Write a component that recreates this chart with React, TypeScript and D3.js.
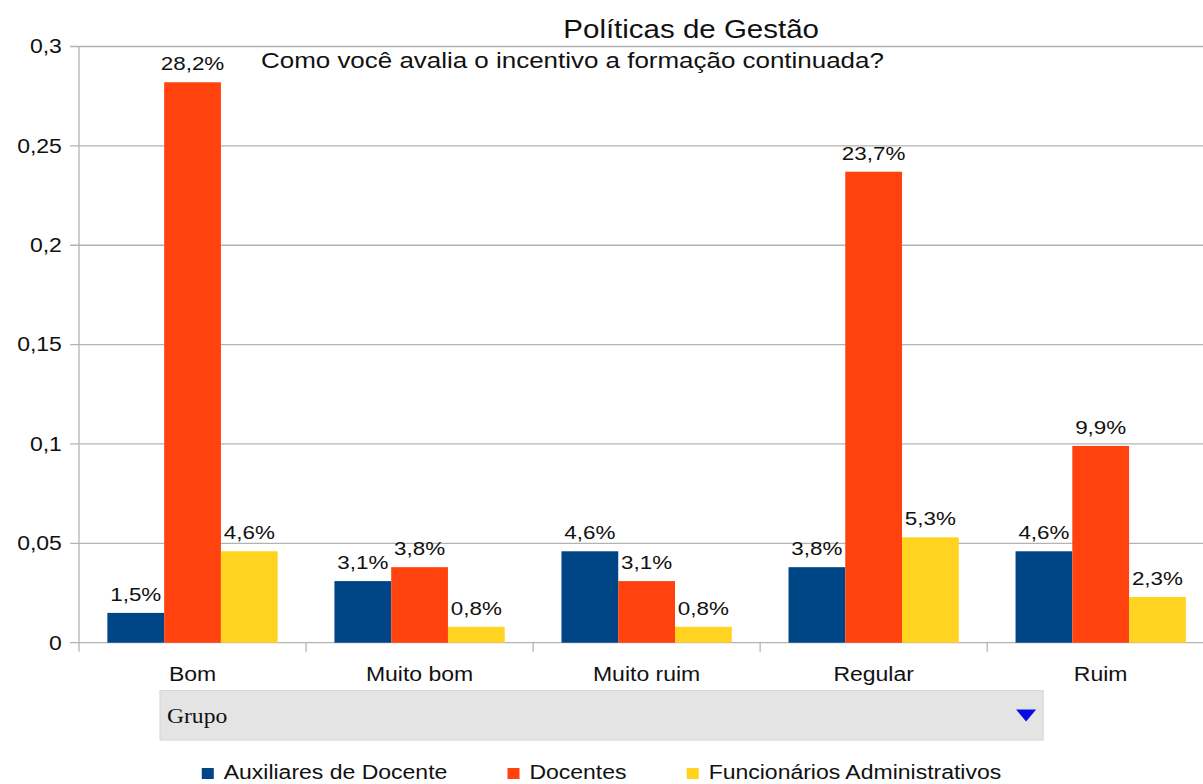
import { useEffect, useRef } from "react";
import * as d3 from "d3";

const CATEGORIES = ["Bom", "Muito bom", "Muito ruim", "Regular", "Ruim"];
const SERIES = ["Auxiliares de Docente", "Docentes", "Funcionários Administrativos"];
const AUXILIARES = [0.015, 0.031, 0.046, 0.038, 0.046];
const DOCENTES = [0.282, 0.038, 0.031, 0.237, 0.099];
const FUNCIONARIOS = [0.046, 0.008, 0.008, 0.053, 0.023];
const SERIES_VALUES = [AUXILIARES, DOCENTES, FUNCIONARIOS];
const COLORS = ["#004586", "#ff420e", "#ffd320"];
const Y_TICKS = [0, 0.05, 0.1, 0.15, 0.2, 0.25, 0.3];

const TITLE = "Políticas de Gestão";
const SUBTITLE = "Como você avalia o incentivo a formação continuada?";
const FIELD_LABEL = "Grupo";

// the screenshot is stretched sideways, so lay out in a narrower viewBox
// and let preserveAspectRatio="none" do the stretching
const WIDTH = 1203;
const HEIGHT = 784;
const VIEW_W = 1020;
const PLOT = { left: 67, top: 46.5, bottom: 642.7, band: 192.5 };
const FONT = "'Liberation Sans', Arial, sans-serif";
const TEXT = "#111";
const GRID = "#b3b3b3";

const locale = d3.formatLocale({
  decimal: ",",
  thousands: ".",
  grouping: [3],
  currency: ["R$", ""],
});
const fmtTick = locale.format("~g");
const fmtPct = locale.format(".1%");

export default function App() {
  const svgRef = useRef<SVGSVGElement>(null);

  useEffect(() => {
    if (!svgRef.current) return;
    const svg = d3.select(svgRef.current);
    svg.selectAll("*").remove();

    const x0 = d3
      .scaleBand<string>()
      .domain(CATEGORIES)
      .range([PLOT.left, PLOT.left + PLOT.band * CATEGORIES.length]);
    const pad = x0.bandwidth() * 0.125;
    const x1 = d3
      .scaleBand<string>()
      .domain(SERIES)
      .range([pad, x0.bandwidth() - pad]);
    const y = d3.scaleLinear().domain([0, 0.3]).range([PLOT.bottom, PLOT.top]);

    // grid + y ticks
    const grid = svg.append("g");
    grid
      .selectAll("line")
      .data(Y_TICKS)
      .join("line")
      .attr("x1", PLOT.left - 7.6)
      .attr("x2", VIEW_W)
      .attr("y1", (d) => y(d))
      .attr("y2", (d) => y(d))
      .attr("stroke", GRID)
      .attr("stroke-width", 1.3);

    svg
      .append("g")
      .selectAll("text")
      .data(Y_TICKS)
      .join("text")
      .attr("x", PLOT.left - 14.5)
      .attr("y", (d) => y(d))
      .attr("dy", "0.35em")
      .attr("text-anchor", "end")
      .attr("font-family", FONT)
      .attr("font-size", 19.5)
      .attr("fill", TEXT)
      .text((d) => fmtTick(d));

    // y axis line and category separators
    svg
      .append("line")
      .attr("x1", PLOT.left)
      .attr("x2", PLOT.left)
      .attr("y1", PLOT.top)
      .attr("y2", PLOT.bottom + 9)
      .attr("stroke", GRID)
      .attr("stroke-width", 1.1);

    const edges = [...CATEGORIES.map((c) => x0(c) as number), x0.range()[1]];
    svg
      .append("g")
      .selectAll("line")
      .data(edges.slice(1))
      .join("line")
      .attr("x1", (d) => d)
      .attr("x2", (d) => d)
      .attr("y1", PLOT.bottom)
      .attr("y2", PLOT.bottom + 9)
      .attr("stroke", GRID)
      .attr("stroke-width", 1.1);

    // bars
    const groups = svg
      .append("g")
      .selectAll("g")
      .data(CATEGORIES)
      .join("g")
      .attr("transform", (c) => `translate(${x0(c)},0)`);

    groups
      .selectAll("rect")
      .data((_, i) => SERIES.map((s, k) => ({ s, k, v: SERIES_VALUES[k][i] })))
      .join("rect")
      .attr("x", (d) => x1(d.s) as number)
      .attr("width", x1.bandwidth())
      .attr("y", (d) => y(d.v))
      .attr("height", (d) => y(0) - y(d.v))
      .attr("fill", (d) => COLORS[d.k]);

    groups
      .selectAll("text")
      .data((_, i) => SERIES.map((s, k) => ({ s, k, v: SERIES_VALUES[k][i] })))
      .join("text")
      .attr("x", (d) => (x1(d.s) as number) + x1.bandwidth() / 2)
      .attr("y", (d) => y(d.v) - 12)
      .attr("text-anchor", "middle")
      .attr("font-family", FONT)
      .attr("font-size", 19)
      .attr("fill", TEXT)
      .text((d) => fmtPct(d.v));

    // category labels
    svg
      .append("g")
      .selectAll("text")
      .data(CATEGORIES)
      .join("text")
      .attr("x", (c) => (x0(c) as number) + x0.bandwidth() / 2)
      .attr("y", 681)
      .attr("text-anchor", "middle")
      .attr("font-family", FONT)
      .attr("font-size", 19.5)
      .attr("fill", TEXT)
      .text((c) => c);

    // titles
    svg
      .append("text")
      .attr("x", 586)
      .attr("y", 38)
      .attr("text-anchor", "middle")
      .attr("font-family", FONT)
      .attr("font-size", 25)
      .attr("fill", TEXT)
      .text(TITLE);
    svg
      .append("text")
      .attr("x", 221.3)
      .attr("y", 68)
      .attr("font-family", FONT)
      .attr("font-size", 22)
      .attr("fill", TEXT)
      .text(SUBTITLE);

    // pivot field button
    const field = svg.append("g");
    field
      .append("rect")
      .attr("x", 135.7)
      .attr("y", 690.5)
      .attr("width", 748.7)
      .attr("height", 49.5)
      .attr("fill", "#e4e4e4")
      .attr("stroke", "#d6d6d6");
    field
      .append("text")
      .attr("x", 141.6)
      .attr("y", 723)
      .attr("font-family", "'Liberation Serif', serif")
      .attr("font-size", 20)
      .attr("fill", TEXT)
      .text(FIELD_LABEL);
    field
      .append("path")
      .attr("d", "M861.5,709.5 L878.5,709.5 L870,721.5 Z")
      .attr("fill", "#0a0ae6");

    // legend, centred on the page
    const legend = svg.append("g");
    const items = legend
      .selectAll("g")
      .data(SERIES)
      .join("g");
    items
      .append("rect")
      .attr("y", 768)
      .attr("width", 10.2)
      .attr("height", 11)
      .attr("fill", (_, k) => COLORS[k]);
    items
      .append("text")
      .attr("x", 18.6)
      .attr("y", 779)
      .attr("font-family", FONT)
      .attr("font-size", 19.5)
      .attr("fill", TEXT)
      .text((d) => d);

    let cursor = 0;
    const offsets: number[] = [];
    items.each(function () {
      const t = d3.select(this).select("text").node() as SVGTextElement;
      offsets.push(cursor);
      cursor += 18.6 + t.getComputedTextLength() + 51;
    });
    const total = cursor - 51;
    const start = VIEW_W / 2 - total / 2;
    items.attr("transform", (_, k) => `translate(${start + offsets[k]},0)`);
  }, []);

  return (
    <div style={{ position: "fixed", left: 0, top: 0, background: "#fff" }}>
      <svg
        ref={svgRef}
        width={WIDTH}
        height={HEIGHT}
        viewBox={`0 0 ${VIEW_W} ${HEIGHT}`}
        preserveAspectRatio="none"
        style={{ display: "block" }}
      />
    </div>
  );
}
